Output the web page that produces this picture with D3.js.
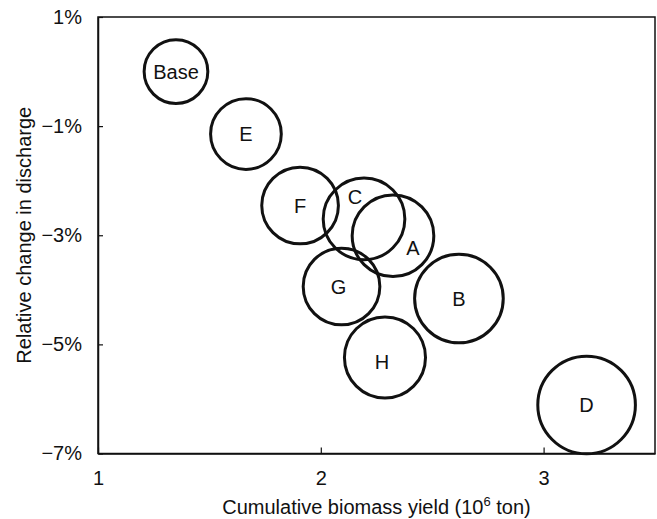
<!DOCTYPE html>
<html>
<head>
<meta charset="utf-8">
<script src="https://cdn.jsdelivr.net/npm/d3@7"></script>
<style>
  html, body { margin: 0; padding: 0; background: #fff; }
  svg { display: block; font-family: "Liberation Sans", Arial, sans-serif; }
</style>
</head>
<body>
<svg id="chart" width="657" height="519"></svg>
<script>
// ---- data ----
const scenarios = ["Base", "E", "F", "C", "A", "G", "B", "H", "D"];
const biomassYield = [1.35, 1.664, 1.907, 2.194, 2.324, 2.093, 2.62, 2.288, 3.193]; // 10^6 ton
const dischargeChange = [0.0, -1.145, -2.455, -2.70, -3.01, -3.94, -4.16, -5.24, -6.11]; // %
const bubbleSize = [42.6, 52.5, 61.7, 70, 70, 61.7, 82.5, 69, 100];
const xTicks = [1, 2, 3];
const xTickLabels = ["1", "2", "3"];
const yTicks = [1, -1, -3, -5, -7];
const yTickLabels = ["1%", "\u22121%", "\u22123%", "\u22125%", "\u22127%"];

// ---- layout ----
const W = 657, H = 519;
const m = { left: 98, top: 17, right: 2, bottom: 65.5 };
const svg = d3.select("#chart");

const x = d3.scaleLinear().domain([1, 3.5]).range([m.left, W - m.right]);
const y = d3.scaleLinear().domain([-7, 1]).range([H - m.bottom, m.top]);
const r = d3.scaleSqrt().domain([0, 100]).range([0, 48.8]);

const ink = "#111";

// frame
svg.append("rect")
  .attr("x", x(1)).attr("y", y(1))
  .attr("width", x(3.5) - x(1)).attr("height", y(-7) - y(1))
  .attr("fill", "none").attr("stroke", ink).attr("stroke-width", 1.5);

// x axis
const xAxis = svg.append("g")
  .attr("transform", `translate(0,${y(-7)})`)
  .call(d3.axisBottom(x).tickValues(xTicks)
    .tickFormat((d, i) => xTickLabels[i])
    .tickSizeInner(-6).tickSizeOuter(0).tickPadding(17.5));
xAxis.select(".domain").attr("stroke", ink).attr("stroke-width", 1.5);
xAxis.selectAll(".tick line").attr("stroke", ink).attr("stroke-width", 1.2);
xAxis.selectAll(".tick text").attr("font-size", 20).attr("fill", ink)
  .attr("font-family", "Liberation Sans, Arial, sans-serif");

// y axis
const yAxis = svg.append("g")
  .attr("transform", `translate(${x(1)},0)`)
  .call(d3.axisLeft(y).tickValues(yTicks)
    .tickFormat((d, i) => yTickLabels[i])
    .tickSizeInner(-5).tickSizeOuter(0).tickPadding(16));
yAxis.select(".domain").attr("stroke", ink).attr("stroke-width", 1.5);
yAxis.selectAll(".tick line").attr("stroke", ink).attr("stroke-width", 1.2);
yAxis.selectAll(".tick text").attr("font-size", 20).attr("fill", ink)
  .attr("font-family", "Liberation Sans, Arial, sans-serif");

// axis titles
const xt = svg.append("text")
  .attr("x", (x(1) + x(3.5)) / 2).attr("y", 514)
  .attr("text-anchor", "middle").attr("font-size", 20).attr("fill", ink);
xt.append("tspan").text("Cumulative biomass yield (10");
xt.append("tspan").attr("font-size", 13).attr("dy", -8).text("6");
xt.append("tspan").attr("dy", 8).text(" ton)");

svg.append("text")
  .attr("transform", `translate(31,${(y(1) + y(-7)) / 2}) rotate(-90)`)
  .attr("text-anchor", "middle").attr("font-size", 20).attr("fill", ink)
  .text("Relative change in discharge");

// bubbles
const data = scenarios.map((s, i) => ({
  name: s, bx: biomassYield[i], dy: dischargeChange[i], size: bubbleSize[i]
}));
const labelShift = { C: [-9, -22], A: [20, 12], G: [-3, 0], H: [-3, 4] };

const g = svg.append("g");
g.selectAll("circle").data(data).join("circle")
  .attr("cx", d => x(d.bx)).attr("cy", d => y(d.dy))
  .attr("r", d => r(d.size))
  .attr("fill", "none").attr("stroke", ink).attr("stroke-width", 3);

g.selectAll("text").data(data).join("text")
  .attr("x", d => x(d.bx) + (labelShift[d.name] ? labelShift[d.name][0] : 0))
  .attr("y", d => y(d.dy) + (labelShift[d.name] ? labelShift[d.name][1] : 0))
  .attr("dy", "0.36em")
  .attr("text-anchor", "middle").attr("font-size", 20).attr("fill", ink)
  .text(d => d.name);
</script>
</body>
</html>
